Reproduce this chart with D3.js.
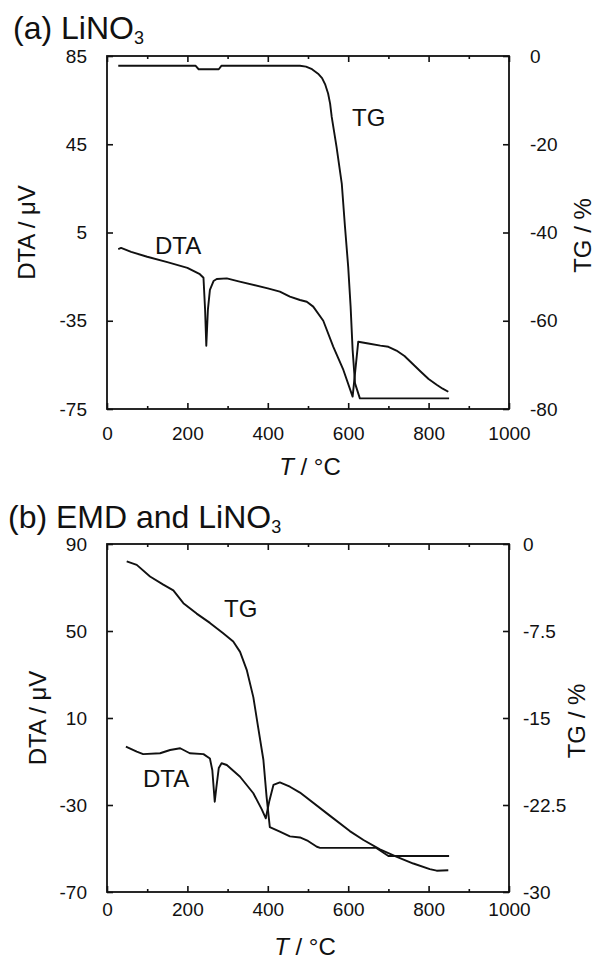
<!DOCTYPE html>
<html>
<head>
<meta charset="utf-8">
<script src="https://cdn.jsdelivr.net/npm/d3@7"></script>
<style>
    body { margin: 0; background: #fff; }
    svg text { font-family: "Liberation Sans", Arial, sans-serif; fill: #111; }
</style>
</head>
<body>
<div id="chart"></div>
<script>
// TG / DTA curves, [T in degC, value]
const tempTicks = [0, 200, 400, 600, 800, 1000];
const tempMinorTicks = [100, 300, 500, 700, 900];

// (a) LiNO3
const dtaTicksA = [-75, -35, 5, 45, 85];
const tgTicksA = [-80, -60, -40, -20, 0];
const dtaA = [
    [28, -2.5], [35, -2.0], [60, -3.8], [100, -6.0], [150, -8.4], [200, -11.0], [231, -13.9],
    [240, -15.5], [244, -30], [247, -46.3], [251, -30], [256, -21], [265, -17], [273, -16.1],
    [298, -15.8], [330, -17.3], [400, -20.3], [430, -21.8], [455, -24.1], [480, -25.6],
    [497, -26.4], [513, -28.6], [538, -35], [563, -46.8], [588, -57.3], [611, -69.4],
    [625, -44.5], [650, -45.3], [680, -46.3], [700, -46.8], [720, -48.5], [740, -51],
    [760, -54.5], [780, -58], [800, -61.4], [820, -64], [835, -65.8], [849, -67.2]
];
const tgA = [
    [28, -2.2], [220, -2.2], [228, -3.0], [278, -3.0], [285, -2.2], [480, -2.2], [495, -2.4],
    [510, -3.0], [525, -4.0], [535, -5.0], [543, -6.5], [550, -8.5], [555, -10.8],
    [559, -13.8], [565, -17.2], [571, -20.6], [584, -28.9], [592, -38.7], [600, -47.8],
    [606, -56.8], [611, -66.6], [617, -74.2], [629, -77.6], [851, -77.6]
];

// (b) EMD and LiNO3
const dtaTicksB = [-70, -30, 10, 50, 90];
const tgTicksB = [-30, -22.5, -15, -7.5, 0];
const dtaB = [
    [47, -3.2], [74, -5.5], [90, -6.6], [132, -6.2], [157, -4.7], [182, -3.9], [206, -6.2],
    [240, -6.6], [256, -8.6], [262, -14], [268, -28.5], [272, -22], [278, -13], [285, -10.8],
    [298, -11.6], [331, -17], [364, -24.6], [385, -32], [395, -36.1], [404, -28], [414, -20.8],
    [430, -19.6], [455, -21.6], [480, -24.3], [555, -35], [604, -42], [638, -46.1],
    [679, -50.4], [721, -53.8], [762, -56.9], [803, -59.5], [820, -60.2], [849, -60.0]
];
const tgB = [
    [49, -1.5], [74, -1.8], [107, -2.8], [140, -3.5], [165, -4.0], [190, -5.1], [223, -6.0],
    [256, -6.8], [289, -7.7], [314, -8.4], [331, -9.3], [348, -10.9], [364, -13.2],
    [376, -15.8], [389, -18.6], [397, -21.8], [405, -24.4], [430, -24.8], [455, -25.2],
    [480, -25.3], [500, -25.6], [522, -26.1], [530, -26.2], [670, -26.2], [700, -26.9],
    [851, -26.9]
];

const svg = d3.select("#chart")
    .append("svg")
    .attr("width", 596)
    .attr("height", 960);

drawPanel({
    title: "(a) LiNO", titleX: 13, titleY: 39,
    top: 56, bottom: 409, left: 107, right: 509,
    dtaTicks: dtaTicksA, tgTicks: tgTicksA, dta: dtaA, tg: tgA,
    xPad: 18, leftPad: 20, rightPad: 21,
    leftTitleX: 35, rightTitleX: 591, xTitleX: 310, xTitleY: 475,
    tgLabel: [352, 126], dtaLabel: [155, 254]
});

drawPanel({
    title: "(b) EMD and LiNO", titleX: 8, titleY: 528,
    top: 544, bottom: 892, left: 107, right: 509,
    dtaTicks: dtaTicksB, tgTicks: tgTicksB, dta: dtaB, tg: tgB,
    xPad: 11, leftPad: 20, rightPad: 14,
    leftTitleX: 46, rightTitleX: 585, xTitleX: 305, xTitleY: 955,
    tgLabel: [224, 617], dtaLabel: [143, 787]
});

function drawPanel(p) {
    const x = d3.scaleLinear().domain([0, 1000]).range([p.left, p.right]);
    const yDta = d3.scaleLinear()
        .domain(d3.extent(p.dtaTicks)).range([p.bottom, p.top]);
    const yTg = d3.scaleLinear()
        .domain(d3.extent(p.tgTicks)).range([p.bottom, p.top]);

    const g = svg.append("g");

    // Axes - ticks point inward
    const fmt = d => String(d);
    const bottomAx = g.append("g")
        .attr("transform", `translate(0,${p.bottom})`)
        .call(d3.axisBottom(x).tickValues(tempTicks).tickSize(-6).tickPadding(p.xPad).tickFormat(fmt));
    g.append("g")
        .attr("transform", `translate(0,${p.bottom})`)
        .call(d3.axisBottom(x).tickValues(tempMinorTicks).tickSize(-3).tickFormat(""));
    g.append("g")
        .attr("transform", `translate(0,${p.top})`)
        .call(d3.axisTop(x).tickValues(tempTicks).tickSize(-6).tickFormat(""));
    g.append("g")
        .attr("transform", `translate(0,${p.top})`)
        .call(d3.axisTop(x).tickValues(tempMinorTicks).tickSize(-3).tickFormat(""));
    const leftAx = g.append("g")
        .attr("transform", `translate(${p.left},0)`)
        .call(d3.axisLeft(yDta).tickValues(p.dtaTicks).tickSize(-6).tickPadding(p.leftPad).tickFormat(fmt));
    const rightAx = g.append("g")
        .attr("transform", `translate(${p.right},0)`)
        .call(d3.axisRight(yTg).tickValues(p.tgTicks).tickSize(-6).tickPadding(p.rightPad).tickFormat(fmt));

    g.selectAll(".domain").remove();
    g.selectAll(".tick line").style("stroke", "#111").style("stroke-width", 1.6);
    [bottomAx, leftAx, rightAx].forEach(a => a.selectAll("text")
        .style("font-size", "19px")
        .style("fill", "#111"));

    // Frame
    g.append("rect")
        .attr("x", p.left)
        .attr("y", p.top)
        .attr("width", p.right - p.left)
        .attr("height", p.bottom - p.top)
        .style("fill", "none")
        .style("stroke", "#111")
        .style("stroke-width", 1.8);

    // Curves
    g.append("path")
        .datum(p.dta)
        .attr("d", d3.line().x(d => x(d[0])).y(d => yDta(d[1])))
        .style("fill", "none")
        .style("stroke", "#111")
        .style("stroke-width", 1.9)
        .style("stroke-linejoin", "round");
    g.append("path")
        .datum(p.tg)
        .attr("d", d3.line().x(d => x(d[0])).y(d => yTg(d[1])))
        .style("fill", "none")
        .style("stroke", "#111")
        .style("stroke-width", 1.9)
        .style("stroke-linejoin", "round");

    // Curve labels
    g.append("text")
        .attr("x", p.tgLabel[0]).attr("y", p.tgLabel[1])
        .style("font-size", "24px")
        .text("TG");
    g.append("text")
        .attr("x", p.dtaLabel[0]).attr("y", p.dtaLabel[1])
        .style("font-size", "24px")
        .text("DTA");

    // Panel title with subscript
    const title = g.append("text")
        .attr("x", p.titleX).attr("y", p.titleY)
        .style("font-size", "32px");
    title.append("tspan").text(p.title);
    title.append("tspan")
        .attr("dy", 5)
        .style("font-size", "18px")
        .text("3");

    // Axis titles
    const midY = (p.top + p.bottom) / 2;
    g.append("text")
        .attr("transform", `translate(${p.leftTitleX},${midY}) rotate(-90)`)
        .attr("text-anchor", "middle")
        .style("font-size", "24px")
        .text("DTA / μV");
    g.append("text")
        .attr("transform", `translate(${p.rightTitleX},${midY + 3}) rotate(-90)`)
        .attr("text-anchor", "middle")
        .style("font-size", "24px")
        .text("TG / %");

    const xt = g.append("text")
        .attr("x", p.xTitleX).attr("y", p.xTitleY)
        .attr("text-anchor", "middle")
        .style("font-size", "24px");
    xt.append("tspan").style("font-style", "italic").text("T");
    xt.append("tspan").text(" / °C");
}
</script>
</body>
</html>
